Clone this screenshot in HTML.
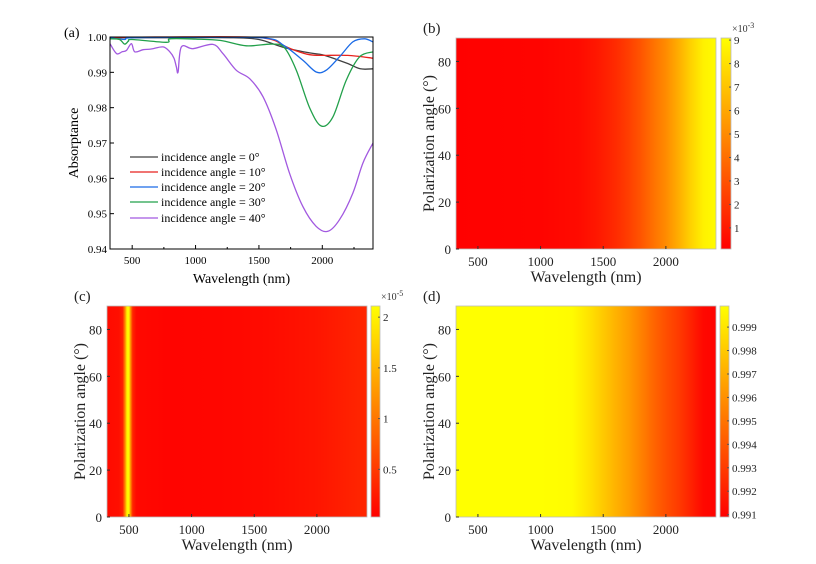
<!DOCTYPE html>
<html><head><meta charset="utf-8">
<style>
html,body{margin:0;padding:0;background:#fff;}
svg{display:block;}
svg text{font-family:"Liberation Serif","Times New Roman",serif;}
</style></head>
<body>
<svg id="fig" width="816" height="564" viewBox="0 0 816 564" xmlns="http://www.w3.org/2000/svg" font-family="Liberation Serif, serif">
<defs id="defs"></defs>
</svg>
<script>
// ---------- Panel (a) data ----------
const aSeriesNames = ["incidence angle = 0°","incidence angle = 10°","incidence angle = 20°","incidence angle = 30°","incidence angle = 40°"];
const aColors = ["#404040","#e8221d","#1a6ae6","#22a04a","#a259e0"];
const aWl0 = [325,600,900,1300,1500,1700,1900,2000,2100,2200,2300,2400];
const aVal0 = [0.9998,0.9998,0.9998,0.9998,0.9993,0.997,0.9955,0.995,0.9938,0.9925,0.991,0.991];
const aWl10 = [325,800,1400,1600,1700,1800,1900,2000,2200,2400];
const aVal10 = [0.9999,1.0,1.0,0.9993,0.9975,0.996,0.995,0.9948,0.9948,0.994];
const aWl20 = [325,440,500,1000,1550,1700,1847,1952,2031,2136,2241,2333,2400];
const aVal20 = [0.9998,0.9993,0.9998,0.9999,0.9997,0.9975,0.9934,0.9901,0.9906,0.9944,0.9986,0.9995,0.9986];
const aWl30 = [325,400,440,470,500,770,800,1000,1200,1400,1600,1700,1795,1900,1992,2084,2189,2294,2400];
const aVal30 = [0.9995,0.9993,0.998,0.9988,0.9993,0.9985,0.9995,0.9994,0.999,0.9975,0.998,0.997,0.9906,0.980,0.9748,0.9774,0.9878,0.9944,0.9958];
const aWl40 = [325,376,420,455,494,520,586,650,744,797,830,849,862,888,980,1137,1216,1321,1427,1532,1637,1742,1847,1952,2044,2136,2241,2320,2400];
const aVal40 = [0.9981,0.9953,0.9958,0.9962,0.9981,0.9958,0.9964,0.9966,0.9972,0.9958,0.994,0.9915,0.9901,0.9972,0.9967,0.9979,0.9953,0.9906,0.9882,0.9831,0.9737,0.9614,0.952,0.9464,0.945,0.9483,0.9558,0.9643,0.970];
const aXTicks = [500,1000,1500,2000];
const aYTicks = [0.94,0.95,0.96,0.97,0.98,0.99,1.00];

// ---------- Heatmap data ----------
const bWl = [325,1000,1300,1450,1600,1700,1800,1900,2000,2100,2200,2300,2400];
const bVal = [0.15,0.25,0.5,0.9,1.6,2.3,3.1,4.1,5.0,6.2,7.5,8.6,9.0];
const bCbTicks = [1,2,3,4,5,6,7,8,9];
const cWl = [325,420,450,470,485,500,515,530,560,800,1200,1600,2000,2400];
const cVal = [0.12,0.15,0.3,1.2,2.05,2.05,1.1,0.35,0.1,0.06,0.08,0.12,0.2,0.35];
const cCbTicks = [0.5,1,1.5,2];
const dWl = [325,1000,1250,1400,1500,1600,1700,1800,1900,2000,2100,2200,2300,2400];
const dVal = [0.9999,0.9999,0.9998,0.9988,0.998,0.9972,0.9964,0.9955,0.9945,0.9937,0.993,0.9921,0.9912,0.991];
const dCbTicks = [0.991,0.992,0.993,0.994,0.995,0.996,0.997,0.998,0.999];
const hmXTicks = [500,1000,1500,2000];
const hmYTicks = [0,20,40,60,80];

const NS="http://www.w3.org/2000/svg";
const svg=document.getElementById('fig');
const defs=document.getElementById('defs');
function mk(tag,attrs,parent){const e=document.createElementNS(NS,tag);for(const k in attrs)e.setAttribute(k,attrs[k]);(parent||svg).appendChild(e);return e;}
function txt(s,attrs,parent){attrs['font-family']='Liberation Serif, serif';const e=mk('text',attrs,parent);e.textContent=s;return e;}
function autumn(t){t=Math.max(0,Math.min(1,t));return 'rgb(255,'+Math.round(255*t)+',0)';}
function smoothPath(pts){
  let d='M'+pts[0][0].toFixed(1)+','+pts[0][1].toFixed(1);
  for(let i=0;i<pts.length-1;i++){
    const p0=pts[Math.max(0,i-1)],p1=pts[i],p2=pts[i+1],p3=pts[Math.min(pts.length-1,i+2)];
    const c1=[p1[0]+(p2[0]-p0[0])/6,p1[1]+(p2[1]-p0[1])/6];
    const c2=[p2[0]-(p3[0]-p1[0])/6,p2[1]-(p3[1]-p1[1])/6];
    d+='C'+c1[0].toFixed(1)+','+c1[1].toFixed(1)+' '+c2[0].toFixed(1)+','+c2[1].toFixed(1)+' '+p2[0].toFixed(1)+','+p2[1].toFixed(1);
  }
  return d;
}

// ---------- Panel (a) ----------
(function(){
  const L=110,R=373,T=37,B=249,x0=325,x1=2400,y0=0.94,y1=1.0;
  const sx=v=>L+(v-x0)/(x1-x0)*(R-L);
  const sy=v=>B-(v-y0)/(y1-y0)*(B-T);
  const g=mk('g',{});
  
  
  const wls=[aWl0,aWl10,aWl20,aWl30,aWl40], vals=[aVal0,aVal10,aVal20,aVal30,aVal40];
  const clip=mk('clipPath',{id:'clipA'},defs);mk('rect',{x:L,y:T-1,width:R-L,height:B-T+1},clip);
  for(let s=0;s<5;s++){
    const pts=wls[s].map((w,i)=>[sx(w),sy(vals[s][i])]);
    const p=mk('path',{d:smoothPath(pts),fill:'none',stroke:aColors[s],'stroke-width':1.3,'clip-path':'url(#clipA)','stroke-linejoin':'round'},g);
    
    
  }
  mk('rect',{x:L,y:T,width:R-L,height:B-T,fill:'none',stroke:'#000','stroke-width':1},g);
  aXTicks.forEach(v=>{
    mk('line',{x1:sx(v),x2:sx(v),y1:B,y2:B-4,stroke:'#000'},g);
    const t=txt(v,{x:sx(v),y:B+15,'font-size':11,'text-anchor':'middle'},g);
    
    
  });
  [750,1250,1750,2250].forEach(v=>mk('line',{x1:sx(v),x2:sx(v),y1:B,y2:B-2,stroke:'#000'},g));
  aYTicks.forEach(v=>{
    mk('line',{x1:L,x2:L+4,y1:sy(v),y2:sy(v),stroke:'#000'},g);
    const t=txt(v.toFixed(2),{x:L-3,y:sy(v)+4,'font-size':11,'text-anchor':'end'},g);
    
    
  });
  const xt=txt('Wavelength (nm)',{x:(L+R)/2,y:283,'font-size':14,'text-anchor':'middle'},g);
  
  
  const yt=txt('Absorptance',{x:0,y:0,'font-size':14,'text-anchor':'middle',transform:'translate(78,'+((T+B)/2)+') rotate(-90)'},g);
  
  
  const lab=txt('(a)',{x:64,y:37,'font-size':14},g);
  
  
  const ly=[157,172,187,202,218];
  for(let s=0;s<5;s++){
    const le=mk('g',{},g);
    
    
    mk('line',{x1:130,x2:158,y1:ly[s],y2:ly[s],stroke:aColors[s],'stroke-width':1.3},le);
    txt(aSeriesNames[s],{x:161,y:ly[s]+4,'font-size':12},le);
  }
})();

// ---------- Heatmaps ----------
function heatmap(id,L,T,R,B,cbL,cbR,wl,vals,vmin,vmax,cbTicks,cbFmt,expo){
  const g=mk('g',{});
  
  
  const x0=325,x1=2400;
  const sx=v=>L+(v-x0)/(x1-x0)*(R-L);
  const sy=v=>B-v/90*(B-T);
  const grad=mk('linearGradient',{id:'grad'+id,gradientUnits:'userSpaceOnUse',x1:L,x2:R,y1:0,y2:0},defs);
  wl.forEach((w,i)=>mk('stop',{offset:((w-x0)/(x1-x0)).toFixed(4),'stop-color':autumn((vals[i]-vmin)/(vmax-vmin))},grad));
  const hm=mk('rect',{x:L,y:T,width:R-L,height:B-T,fill:'url(#grad'+id+')'},g);
  
  
  mk('rect',{x:L,y:T,width:R-L,height:B-T,fill:'none',stroke:'#bbb','stroke-width':0.8},g);
  hmXTicks.forEach(v=>{
    mk('line',{x1:sx(v),x2:sx(v),y1:B,y2:B-3,stroke:'#333'},g);
    const t=txt(v,{x:sx(v),y:B+17,'font-size':13,'text-anchor':'middle',fill:'#222'},g);
    
    
  });
  hmYTicks.forEach(v=>{
    mk('line',{x1:L,x2:L+3,y1:sy(v),y2:sy(v),stroke:'#333'},g);
    const t=txt(v,{x:L-5,y:sy(v)+5,'font-size':13,'text-anchor':'end',fill:'#222'},g);
    
    
  });
  const xt=txt('Wavelength (nm)',{x:(L+R)/2,y:B+33,'font-size':16,'text-anchor':'middle',fill:'#222'},g);
  
  
  const yt=txt('Polarization angle (°)',{x:0,y:0,'font-size':16,'text-anchor':'middle',fill:'#222',transform:'translate('+(L-22)+','+((T+B)/2)+') rotate(-90)'},g);
  
  
  const lab=txt('('+id+')',{x:L-33,y:T-5,'font-size':15,fill:'#222'},g);
  
  
  const cg=mk('linearGradient',{id:'cb'+id,x1:0,x2:0,y1:1,y2:0},defs);
  mk('stop',{offset:0,'stop-color':autumn(0)},cg);mk('stop',{offset:1,'stop-color':autumn(1)},cg);
  const cb=mk('rect',{x:cbL,y:T,width:cbR-cbL,height:B-T,fill:'url(#cb'+id+')',stroke:'#bbb','stroke-width':0.8},g);
  
  
  const cy=v=>B-(v-vmin)/(vmax-vmin)*(B-T);
  cbTicks.forEach(v=>{
    mk('line',{x1:cbR,x2:cbR-2,y1:cy(v),y2:cy(v),stroke:'#555'},g);
    const t=txt(cbFmt(v),{x:cbR+3,y:cy(v)+4,'font-size':11,fill:'#222'},g);
    
    
  });
  if(expo){
    const e=txt('×10',{x:cbR+1,y:T-6,'font-size':10,fill:'#333'},g);
    const sp=mk('tspan',{dy:-4,'font-size':8},e);sp.textContent=expo;
    
    
  }
}
heatmap('b',456,38,716,249,721,731,bWl,bVal,0.1,9.09,bCbTicks,v=>String(v),'-3');
heatmap('c',107,306,367,517,371,380,cWl,cVal,0.03,2.11,cCbTicks,v=>String(v),'-5');
heatmap('d',456,306,716,517,720,729,dWl,dVal,0.9909,0.9999,dCbTicks,v=>v.toFixed(3),null);
</script>
</body></html>
